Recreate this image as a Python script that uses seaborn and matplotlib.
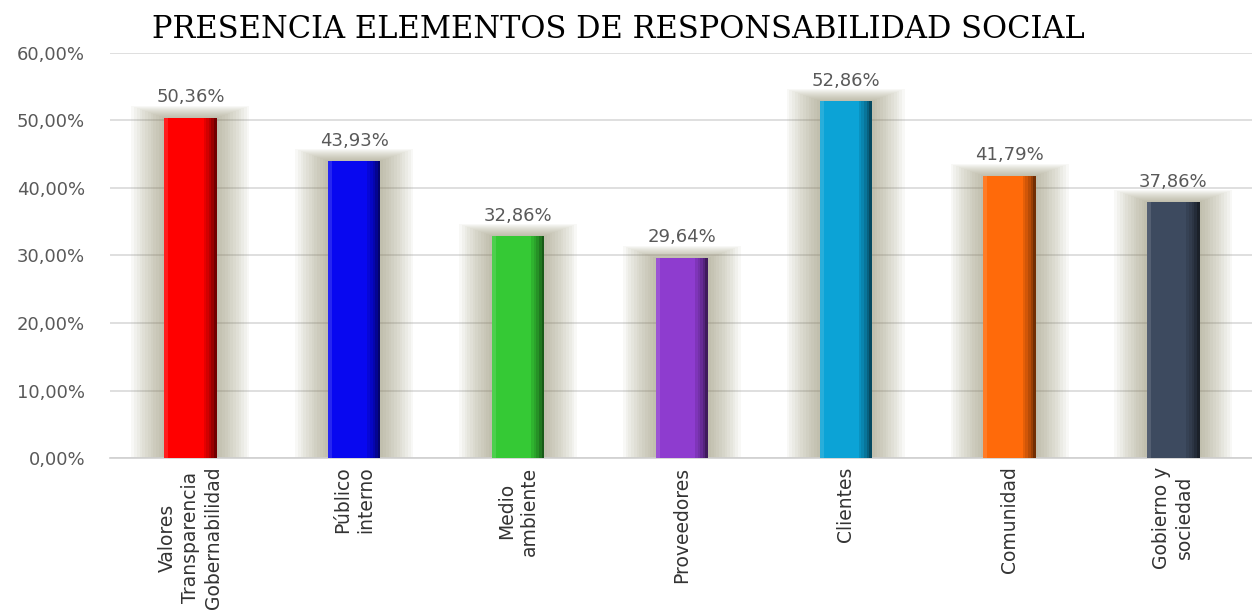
import matplotlib
matplotlib.use("Agg")
import matplotlib.pyplot as plt
import seaborn as sns
import pandas as pd
import numpy as np

categories = ["Valores\nTransparencia\nGobernabilidad", "Público\ninterno", "Medio\nambiente",
              "Proveedores", "Clientes", "Comunidad", "Gobierno y\nsociedad"]
values = [50.36, 43.93, 32.86, 29.64, 52.86, 41.79, 37.86]
value_labels = ["50,36%", "43,93%", "32,86%", "29,64%", "52,86%", "41,79%", "37,86%"]
colors = ["#FF0000", "#0808F0", "#35C935", "#8E3CCF", "#0CA3D6", "#FF6A0A", "#3D4A5F"]
yticks = [0, 10, 20, 30, 40, 50, 60]
ytick_labels = ["0,00%", "10,00%", "20,00%", "30,00%", "40,00%", "50,00%", "60,00%"]

sns.set_theme(style="white")
plt.rcParams['font.family'] = ['DejaVu Sans']

df = pd.DataFrame({"cat": categories, "val": values})

fig = plt.figure(figsize=(12.52, 6.14), dpi=100)
ax = fig.add_axes([0.088, 0.254, 0.912, 0.66])

x = np.arange(len(values))
vals = np.array(values)
# glow layers (soft olive halo)
n = 12
for k in range(n):
    w = 0.32 + 0.40 * (1 - k / n)
    ext = 1.8 * (1 - k / n)
    ax.bar(x, vals + ext, width=w, color="#8A8462", alpha=0.055, zorder=1, linewidth=0)

sns.barplot(data=df, x="cat", y="val", hue="cat", palette=colors, width=0.32,
            legend=False, ax=ax, zorder=3, linewidth=0, saturation=1)

# bevel: darker gradient on right side, light strip on left
for i, v in enumerate(values):
    for j, a in enumerate([0.10, 0.18, 0.28, 0.40, 0.55]):
        ax.bar(x[i] + 0.08 + j * 0.016, v, width=0.016, align="edge", color="black",
               alpha=a, zorder=4, linewidth=0)
    ax.bar(x[i] - 0.16, v, width=0.025, align="edge", color="white", alpha=0.12, zorder=4, linewidth=0)

for i, (v, lab) in enumerate(zip(values, value_labels)):
    ax.text(x[i], v + 1.7, lab, ha="center", va="bottom", fontsize=13, color="#595959", zorder=5)

ax.set_ylim(0, 60)
ax.set_xlim(-0.49, 6.48)
ax.set_yticks(yticks)
ax.set_yticklabels(ytick_labels, fontsize=13, color="#595959")
ax.set_xticks(x)
ax.set_xticklabels(categories, rotation=90, fontsize=13.5, color="#333333", va="top", ha="center",
                   linespacing=1.25)
ax.set_xlabel("")
ax.set_ylabel("")
ax.grid(axis="y", color="#D9D9D9", linewidth=1.2, zorder=0)
ax.set_axisbelow(True)
for s in ["top", "right", "left"]:
    ax.spines[s].set_visible(False)
ax.spines["bottom"].set_color("#D0D0D0")
ax.spines["bottom"].set_linewidth(1.2)
ax.tick_params(axis="y", length=0, pad=18)
ax.tick_params(axis="x", length=0, pad=6)

fig.text(618 / 1252, 1 - 30 / 614, "PRESENCIA ELEMENTOS DE RESPONSABILIDAD SOCIAL",
         ha="center", va="center", fontsize=22, family="DejaVu Serif", color="black")

fig.savefig("out.png", dpi=100, facecolor="white")
